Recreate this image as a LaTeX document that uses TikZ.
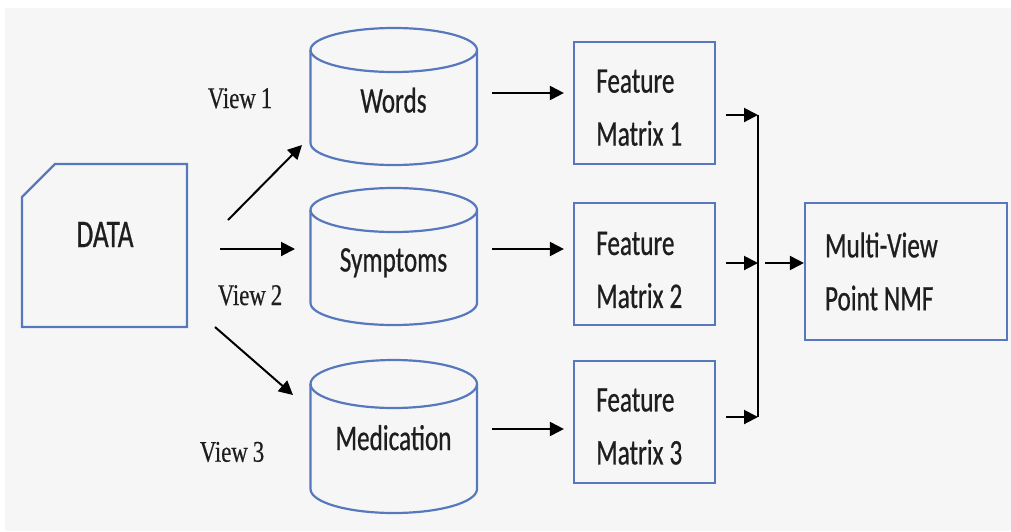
\documentclass[tikz,border=0pt]{standalone}
\usepackage{fontspec}
\usetikzlibrary{arrows.meta}
\newfontfamily\calf[FakeStretch=0.7,FakeBold=0.6]{Carlito}
\newfontfamily\timf[FakeStretch=0.76,FakeBold=0.4]{Liberation Serif}
\newcommand\mycalfont{\calf\fontsize{36}{53}\selectfont\spaceskip=6pt plus 2pt minus 1pt\relax}
\newcommand\mydatafont{\calf\fontsize{39}{45}\selectfont}
\newcommand\mytimfont{\timf\fontsize{30}{36}\selectfont\spaceskip=5pt plus 2pt minus 1pt\relax}
\newcommand\nsp{\hspace{6pt}}
\definecolor{bordblue}{RGB}{88,120,190}
\definecolor{bgray}{RGB}{246,246,246}
\definecolor{txt}{RGB}{30,30,30}
\begin{document}
\begin{tikzpicture}[x=1pt,y=-1pt,
  shapeline/.style={draw=bordblue, line width=2.2pt},
  arr/.style={-{Triangle[length=14pt,width=14pt]}, line width=2pt, black},
  lbl/.style={font=\mycalfont, text=txt, inner sep=0pt},
  viewlbl/.style={font=\mytimfont, text=txt, inner sep=0pt, anchor=base},
  fmbox/.style={shapeline, minimum width=141pt, minimum height=122pt, inner sep=0pt},
]
\useasboundingbox (0,0) rectangle (1011,531);
\fill[white] (0,0) rectangle (1011,531);
\fill[bgray] (5,8) rectangle (1011,531);

% DATA
\draw[shapeline, line join=miter] (22,197) -- (55,164) -- (187,164) -- (187,327) -- (22,327) -- cycle;
\node[lbl, font=\mydatafont, anchor=base] (data) at (105,247) {DATA};

% cylinders
\draw[shapeline] (310.5,50) -- (310.5,143) arc[start angle=180, end angle=360, x radius=83.25pt, y radius=22pt] -- (477,50);
\draw[shapeline] (393.75,50) ellipse [x radius=83.25pt, y radius=22pt];
\draw[shapeline] (310.5,210) -- (310.5,303) arc[start angle=180, end angle=360, x radius=83.25pt, y radius=22pt] -- (477,210);
\draw[shapeline] (393.75,210) ellipse [x radius=83.25pt, y radius=22pt];
\draw[shapeline] (310.5,384) -- (310.5,489) arc[start angle=180, end angle=360, x radius=83.25pt, y radius=24pt] -- (477,384);
\draw[shapeline] (393.75,384) ellipse [x radius=83.25pt, y radius=24pt];
\node[lbl, anchor=base] (words) at (393.5,112.5) {Words};
\node[lbl, anchor=base] (symp) at (393.5,271.5) {Symptoms};
\node[lbl, anchor=base] (medi) at (393.5,450) {Medication};

% feature matrices
\node[fmbox] (fm1) at (644.5,103) {};
\node[fmbox] (fm2) at (644.5,264) {};
\node[fmbox] (fm3) at (644.5,422) {};
\node[lbl, align=left, anchor=west] (fm1t) at (596,107.7) {Feature\\Matrix\nsp 1};
\node[lbl, align=left, anchor=west] (fm2t) at (596,270) {Feature\\Matrix\nsp 2};
\node[lbl, align=left, anchor=west] (fm3t) at (596,426.5) {Feature\\Matrix\nsp 3};

% multi-view
\node[lbl, shapeline, minimum width=202pt, minimum height=137pt, inner xsep=20pt, inner ysep=0pt, text width=162pt, align=left] (mv) at (906,271.5) {Multi-View\\Point\nsp NMF};

% view labels
\node[viewlbl] (v1) at (240,108) {View 1};
\node[viewlbl] (v2) at (250,305) {View 2};
\node[viewlbl] (v3) at (232,461.7) {View 3};

% arrows from data
\coordinate (d1s) at (228,220); \coordinate (d1e) at (302,145);
\coordinate (d2s) at (220,249); \coordinate (d2e) at (295,249);
\coordinate (d3s) at (215,327); \coordinate (d3e) at (293,395);
\draw[arr] (d1s) -- (d1e);
\draw[arr] (d2s) -- (d2e);
\draw[arr] (d3s) -- (d3e);

% cylinder -> feature matrix
\coordinate (w1) at (492,93);
\coordinate (s1) at (492,249);
\coordinate (m1) at (492,429);
\draw[arr, shorten >=9pt] (w1) -- (fm1.west |- w1);
\draw[arr, shorten >=9pt] (s1) -- (fm2.west |- s1);
\draw[arr, shorten >=9pt] (m1) -- (fm3.west |- m1);

% merge bar
\coordinate (bt) at (758,115);
\coordinate (bm) at (758,263);
\coordinate (bb) at (758,417);
\coordinate (bm2) at (765,263);
\draw[line width=2pt] (bt) -- (bb);
\draw[arr, shorten <=10pt] (fm1.east |- bt) -- (bt);
\draw[arr, shorten <=10pt] (fm2.east |- bm) -- (bm);
\draw[arr, shorten <=10pt] (fm3.east |- bb) -- (bb);
\draw[arr] (bm2) -- (mv.west |- bm2);
\end{tikzpicture}
\end{document}
